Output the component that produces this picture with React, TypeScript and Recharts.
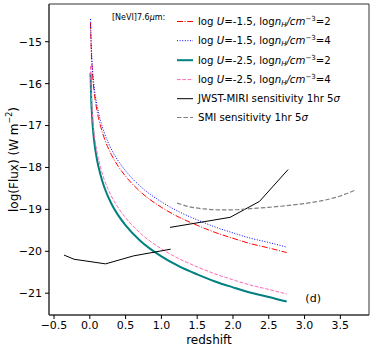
import { LineChart, Line, XAxis, YAxis, ReferenceDot, ReferenceArea } from 'recharts'

// model curves, all sampled on the same redshift grid
const redshift = [0.01, 0.02, 0.03, 0.04, 0.06, 0.1, 0.15, 0.2, 0.3, 0.4, 0.5, 0.7, 1.0, 1.25, 1.5, 1.75, 2.0, 2.25, 2.5, 2.75]
const fluxU15n2 = [-14.55, -15.21, -15.56, -15.83, -16.19, -16.64, -17.01, -17.29, -17.69, -17.98, -18.21, -18.57, -18.95, -19.19, -19.38, -19.55, -19.69, -19.82, -19.92, -20.03]
const fluxU15n4 = [-14.46, -15.08, -15.43, -15.7, -16.06, -16.51, -16.88, -17.16, -17.56, -17.85, -18.08, -18.44, -18.82, -19.06, -19.25, -19.42, -19.56, -19.69, -19.79, -19.9]
const fluxU25n2 = [-15.74, -16.38, -16.73, -17.0, -17.36, -17.81, -18.18, -18.46, -18.86, -19.15, -19.38, -19.74, -20.12, -20.36, -20.55, -20.72, -20.86, -20.99, -21.09, -21.2]
const fluxU25n4 = [-15.58, -16.2, -16.55, -16.82, -17.18, -17.63, -18.0, -18.28, -18.68, -18.97, -19.2, -19.56, -19.94, -20.18, -20.37, -20.54, -20.68, -20.81, -20.91, -21.02]

// JWST-MIRI sensitivity: two pieces, null splits them
const miriZ = [-0.36, -0.22, 0.22, 0.61, 1.13, 1.125, 1.12, 1.96, 2.37, 2.77]
const miriFlux = [-20.09, -20.19, -20.3, -20.11, -19.95, null, -19.43, -19.19, -18.81, -18.05]

// SMI sensitivity
const smiZ = [1.22, 1.4, 1.6, 1.8, 2.0, 2.25, 2.5, 2.75, 3.0, 3.25, 3.5, 3.71]
const smiFlux = [-18.85, -18.94, -18.99, -19.01, -19.01, -18.98, -18.95, -18.91, -18.86, -18.79, -18.68, -18.54]

const xTicks = [-0.5, 0, 0.5, 1, 1.5, 2, 2.5, 3, 3.5]
const yTicks = [-21, -20, -19, -18, -17, -16, -15]

const toPoints = (xs: number[], ys: (number | null)[]) => xs.map((x, i) => ({ x, y: ys[i] }))

const font = '"DejaVu Sans", sans-serif'
const minus = (s: string) => s.replace('-', '\u2212')
const X_DOMAIN: [number, number] = [-0.57, 3.9]
const Y_DOMAIN: [number, number] = [-21.52, -14.1]

const series = [
  { name: 'u15n2', data: toPoints(redshift, fluxU15n2), color: '#ff0000', width: 1, dash: '6 1.6 1 1.6' },
  { name: 'u15n4', data: toPoints(redshift, fluxU15n4), color: '#0000ff', width: 1, dash: '1 1.6' },
  { name: 'u25n2', data: toPoints(redshift, fluxU25n2), color: '#008080', width: 2, dash: undefined },
  { name: 'u25n4', data: toPoints(redshift, fluxU25n4), color: '#ff69b4', width: 1, dash: '3.7 1.6' },
]

function YLabel({ viewBox }: any) {
  const cx = viewBox.x + 14
  const cy = viewBox.y + viewBox.height / 2
  return (
    <text x={cx} y={cy} transform={`rotate(-90, ${cx}, ${cy})`} textAnchor="middle" dominantBaseline="middle"
      fontFamily={font} fontSize={12} fill="#000">
      log(Flux) (W m<tspan fontSize={8} dy={-5}>{'\u22122'}</tspan><tspan dy={5}>)</tspan>
    </text>
  )
}

function PanelTag({ viewBox }: any) {
  return (
    <text x={viewBox.x} y={viewBox.y} textAnchor="middle" dominantBaseline="middle"
      fontFamily={font} fontSize={11} fill="#000">(d)</text>
  )
}

function Handle({ y, color, width, dash }: { y: number; color: string; width: number; dash?: string }) {
  return <line x1={177} x2={193} y1={y} y2={y} stroke={color} strokeWidth={width} strokeDasharray={dash} />
}

function ModelText({ y, u, n }: { y: number; u: string; n: string }) {
  return (
    <text x={198} y={y + 3.5} fontFamily={font} fontSize={10.2} fill="#000">
      log <tspan fontStyle="italic">U</tspan>={u}, log<tspan fontStyle="italic">n</tspan>
      <tspan fontStyle="italic" fontSize={7} dy={2}>H</tspan>
      <tspan fontStyle="italic" dy={-2}>/cm</tspan>
      <tspan fontSize={7} dy={-4}>{'\u22123'}</tspan>
      <tspan dy={4}>={n}</tspan>
    </text>
  )
}

function LegendOverlay() {
  const rows = [21.5, 40.7, 60.2, 79.6, 98.7, 117.5]
  return (
    <svg width={374} height={350} style={{ position: 'absolute', left: 0, top: 0, pointerEvents: 'none' }}>
      <text x={112} y={19.5} fontFamily={font} fontSize={8} fill="#000">[NeVI]7.6<tspan fontStyle="italic">μ</tspan>m:</text>
      <Handle y={rows[0]} color="#ff0000" width={1} dash="6 1.6 1 1.6" />
      <ModelText y={rows[0]} u="-1.5" n="2" />
      <Handle y={rows[1]} color="#0000ff" width={1} dash="1 1.6" />
      <ModelText y={rows[1]} u="-1.5" n="4" />
      <Handle y={rows[2]} color="#008080" width={2} />
      <ModelText y={rows[2]} u="-2.5" n="2" />
      <Handle y={rows[3]} color="#ff69b4" width={1} dash="3.7 1.6" />
      <ModelText y={rows[3]} u="-2.5" n="4" />
      <Handle y={rows[4]} color="#000" width={1} />
      <text x={198} y={rows[4] + 3.5} fontFamily={font} fontSize={10.2} fill="#000">
        JWST-MIRI sensitivity 1hr 5<tspan fontStyle="italic">σ</tspan>
      </text>
      <Handle y={rows[5]} color="#808080" width={1.2} dash="4.5 2" />
      <text x={198} y={rows[5] + 3.5} fontFamily={font} fontSize={10.2} fill="#000">
        SMI sensitivity 1hr 5<tspan fontStyle="italic">σ</tspan>
      </text>
    </svg>
  )
}

export default function App() {
  const axisStroke = '#333'
  return (
    <div style={{ position: 'absolute', left: 0, top: 0, width: 374, height: 350, background: '#fff' }}>
      <LineChart width={374} height={350} margin={{ top: 4, right: 5, left: 0, bottom: 0 }}>
        <XAxis dataKey="x" type="number" domain={X_DOMAIN} ticks={xTicks} allowDataOverflow
          tickFormatter={(v: number) => minus(v.toFixed(1))} height={35} tickSize={4} tickMargin={2}
          stroke={axisStroke} tick={{ fill: '#000', fontSize: 11, fontFamily: font }}
          tickLine={{ stroke: '#000' }}
          label={{ value: 'redshift', position: 'insideBottom', offset: 6, fill: '#000', fontSize: 12, fontFamily: font }} />
        <YAxis type="number" domain={Y_DOMAIN} ticks={yTicks} allowDataOverflow width={49}
          tickFormatter={(v: number) => minus(String(v))} tickSize={4} tickMargin={3}
          stroke={axisStroke} tick={{ fill: '#000', fontSize: 11, fontFamily: font }}
          tickLine={{ stroke: '#000' }} label={YLabel} />
        <ReferenceArea x1={X_DOMAIN[0]} x2={X_DOMAIN[1]} y1={Y_DOMAIN[0]} y2={Y_DOMAIN[1]}
          fill="none" fillOpacity={0} stroke={axisStroke} strokeWidth={1} strokeOpacity={1} />
        {series.map(s => (
          <Line key={s.name} data={s.data} dataKey="y" type="monotone" stroke={s.color} strokeWidth={s.width}
            strokeDasharray={s.dash} dot={false} isAnimationActive={false} />
        ))}
        <Line data={toPoints(miriZ, miriFlux)} dataKey="y" type="linear" stroke="#000" strokeWidth={1}
          dot={false} isAnimationActive={false} />
        <Line data={toPoints(smiZ, smiFlux)} dataKey="y" type="monotone" stroke="#808080" strokeWidth={1.2}
          strokeDasharray="4.5 2" dot={false} isAnimationActive={false} />
        <ReferenceDot x={3.12} y={-21.15} r={0} fill="none" stroke="none" label={PanelTag} />
      </LineChart>
      <LegendOverlay />
    </div>
  )
}
